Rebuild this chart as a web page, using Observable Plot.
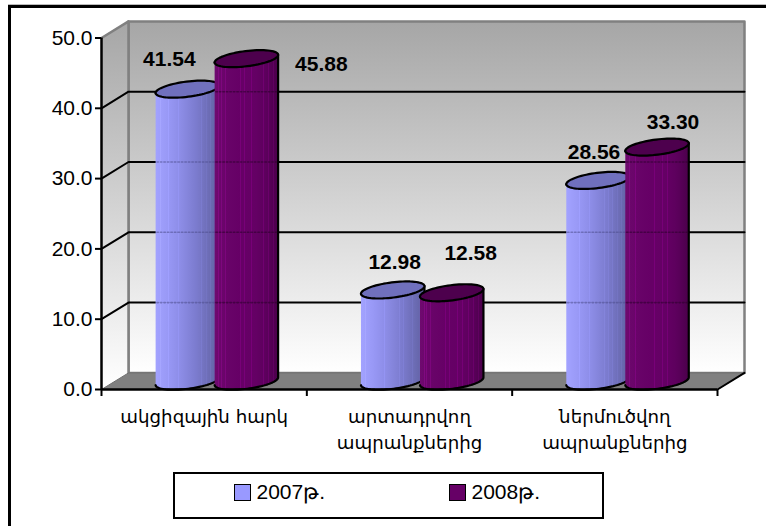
<!DOCTYPE html>
<html><head><meta charset="utf-8">
<script src="https://cdn.jsdelivr.net/npm/d3@7"></script>
<script src="https://cdn.jsdelivr.net/npm/@observablehq/plot@0.6"></script>
<style>
html,body{margin:0;padding:0;background:#fff;width:766px;height:526px;overflow:hidden}
#wrap{position:relative;width:766px;height:526px;overflow:hidden;font-family:"Liberation Sans",Arial,sans-serif}
#frame{position:absolute;left:8px;top:5px;width:900px;height:700px;border:3px solid #000;box-shadow:0 -1px 0 #bbb}
#chart{position:absolute;left:0;top:0}
#legend{position:absolute;left:173px;top:472px;width:427px;height:43px;border:2.5px solid #000;background:#fff;font-size:21px;color:#000}
.sw{position:absolute;top:9.5px;width:15px;height:15px;border:1.5px solid #000}
.lt{position:absolute;top:6px;line-height:24px;white-space:nowrap}
</style></head>
<body><div id="wrap"><div id="frame"></div><div id="chart"></div>
<div id="legend"></div></div>
<script>
const categories = ["ակցիզային հարկ", "արտադրվող\nապրանքներից", "ներմուծվող\nապրանքներից"];
const seriesNames = ["2007թ.", "2008թ."];
const values2007 = [41.54, 12.98, 28.56];
const values2008 = [45.88, 12.58, 33.30];
const yTicks = [0, 10, 20, 30, 40, 50];
const seriesColors = ["#9999ff", "#660066"];

// layout
const W = 766, H = 526, mL = 101, mR = 49, mT = 37.5, mB = 137;
const xPerPx = 3 / (W - mL - mR), yPerPx = 50 / (H - mT - mB);
const depthX = 27 * xPerPx, depthY = 16.6 * yPerPx;      // full depth of the box in data units
const P = (x, y, d = 0) => [x + d * depthX, y + d * depthY];   // d: 0 front .. 1 back
const poly = (pts, o) => Plot.line(pts, {x: d => d[0], y: d => d[1], curve: "linear", strokeLinejoin: "round", ...o});

const halfGap = 29.5 * xPerPx, nudgeX = -0.8 * xPerPx, rx = 32, ry = 7.6, tilt = -7.2 * Math.PI / 180;
const barCenter = (i, s) => i + 0.5 + nudgeX + (s === 0 ? -halfGap : halfGap);
// point on a tilted ellipse around (cx, v) at mid depth
const ell = (cx, v, t) => {
  const ex = rx * Math.cos(t), ey = ry * Math.sin(t);
  const px = ex * Math.cos(tilt) - ey * Math.sin(tilt), py = ex * Math.sin(tilt) + ey * Math.cos(tilt);
  const [X, Y] = P(cx, v, 0.5);
  return [X + px * xPerPx, Y - py * yPerPx];
};
const sweep = (a, b, n) => d3.range(n + 1).map(i => a + (b - a) * i / n);

function cylinder(i, s, v) {
  const cx = barCenter(i, s);
  const body = [ell(cx, v, Math.PI), ell(cx, v, 0), ...sweep(0, Math.PI, 40).map(t => ell(cx, 0, t))];
  const top = sweep(0, 2 * Math.PI, 72).map(t => ell(cx, v, t));
  // the gridlines show faintly through the ribbed body
  const ghosts = yTicks.slice(1, 5).filter(g => g < v - 3).map(g => {
    const [gx, gy] = P(cx, g, 1);
    const half = (rx - 1.5) * xPerPx;
    return poly([[gx - depthX / 2 - half, gy], [gx - depthX / 2 + half, gy]],
      {stroke: s === 0 ? "#4c4c8c" : "#2a002a", strokeWidth: 1.6, strokeDasharray: "1.5,2", strokeOpacity: 0.55});
  });
  return [
    poly(body, {fill: `url(#cyl${s})`, stroke: "#000", strokeWidth: 2.2}),
    ...ghosts,
    poly(top, {fill: s === 0 ? "#7070bd" : "#4d004d", stroke: "#000", strokeWidth: 2.2})
  ];
}

const series = [values2007, values2008];
const labelOffsets2007 = [[-18, -30], [2, -28], [-4, -28]];
const labelOffsets2008 = [[75, 6], [19, -39], [16, -25]];
const offsets = [labelOffsets2007, labelOffsets2008];

const marks = [
  // back wall, side wall, floor
  poly([P(0,50,1), P(3,50,1), P(3,0,1), P(0,0,1), P(0,50,1)], {fill: "url(#wall)", stroke: "#808080", strokeWidth: 2.5}),
  poly([P(0,50,0), P(0,50,1), P(0,0,1), P(0,0,0), P(0,50,0)], {fill: "url(#side)", stroke: "none"}),
  poly([P(0,50,0), P(0,50,1), P(0,0,1)], {stroke: "#808080", strokeWidth: 2.5}),
  poly([P(0,0,0), P(0,0,1), P(3,0,1), P(3,0,0), P(0,0,0)], {fill: "#808080", stroke: "#6e6e6e", strokeWidth: 1}),
  // gridlines
  ...yTicks.slice(1, 5).map(v => poly([P(0,v,0), P(0,v,1), P(3,v,1)], {stroke: "#000", strokeWidth: 2})),
  poly([P(3,0,0), P(3,0,1)], {stroke: "#000", strokeWidth: 2}),
  // cylinders
  ...categories.flatMap((c, i) => [0, 1].flatMap(s => cylinder(i, s, series[s][i]))),
  // axes
  Plot.axisY({ticks: yTicks, tickFormat: d3.format(".1f"), tickSize: 6, tickPadding: 3, fontSize: 21, stroke: "#000", strokeWidth: 2, label: null, fill: "#000"}),
  Plot.axisX({ticks: [0, 1, 2, 3], tickFormat: () => "", tickSize: 7, stroke: "#000", strokeWidth: 2, label: null}),
  Plot.ruleY([0], {stroke: "#000", strokeWidth: 2.5}),
  Plot.ruleX([0], {stroke: "#000", strokeWidth: 2.5}),
  // category labels
  Plot.text(categories, {x: (d, i) => i + 0.5, y: 0, text: d => d, dy: 15, lineAnchor: "top", fontSize: 18.2, lineHeight: 1.42,
    fontFamily: "'DejaVu Sans',sans-serif", fill: "#000"}),
  // value labels
  ...[0, 1].flatMap(s => series[s].map((v, i) => {
    const [X, Y] = P(barCenter(i, s), v, 0.5);
    return Plot.text([v], {x: () => X, y: () => Y, text: d => d3.format(".2f")(d), dx: offsets[s][i][0], dy: offsets[s][i][1],
      fontSize: 21, fontWeight: "bold", fill: "#000"});
  }))
];

const plot = Plot.plot({
  width: W, height: H, marginLeft: mL, marginRight: mR, marginTop: mT, marginBottom: mB,
  style: {fontFamily: "'Liberation Sans',Arial,sans-serif", background: "transparent", overflow: "visible"},
  x: {domain: [0, 3], axis: null},
  y: {domain: [0, 50], axis: null},
  marks
});

// gradients
const defs = d3.select(plot).insert("defs", ":first-child");
const grad = (id, x2, y2, stops) => {
  const g = defs.append("linearGradient").attr("id", id).attr("x1", 0).attr("y1", 0).attr("x2", x2).attr("y2", y2);
  stops.forEach(([o, c]) => g.append("stop").attr("offset", o).attr("stop-color", c));
};
grad("wall", 0, 1, [[0, "#a6a6a6"], [1, "#ffffff"]]);
grad("side", 0, 1, [[0, "#a6a6a6"], [1, "#ffffff"]]);
// ribbed shading of the cylinder bodies: a base ramp with narrow lighter bands
function ribbed(base, bands, light) {
  const col = d3.interpolateRgbBasis(base);
  const stops = [];
  let last = 0;
  bands.forEach(b => {
    const hi = d3.rgb(col(b)).brighter(light).formatHex();
    stops.push([last, col(last)], [b, col(b)], [b, hi], [b + 0.012, hi], [b + 0.012, col(b + 0.012)]);
    last = b + 0.012;
  });
  stops.push([last, col(last)], [1, col(1)]);
  return stops;
}
grad("cyl0", 1, 0, ribbed(["#a2a2ff", "#9696f3", "#8585de", "#7474c2", "#5f5f9f"], [.07,.2,.36,.6,.66,.72,.8,.86,.92], .12));
grad("cyl1", 1, 0, ribbed(["#6f0a6f", "#660066", "#660066", "#640064", "#4a004a"], [.06,.1,.16,.4,.46,.58,.66,.76,.84,.92], .45));

// legend, kept in the page's HTML (it sits over the chart frame)
const legend = d3.select("#legend");
const lx = [[58.5, 81.5], [273.5, 296.5]];
seriesNames.forEach((n, i) => {
  legend.append("div").attr("class", "sw").style("left", lx[i][0] + "px").style("background", seriesColors[i]);
  legend.append("div").attr("class", "lt").style("left", lx[i][1] + "px").text(n);
});
document.getElementById("chart").append(plot);
</script></body></html>
